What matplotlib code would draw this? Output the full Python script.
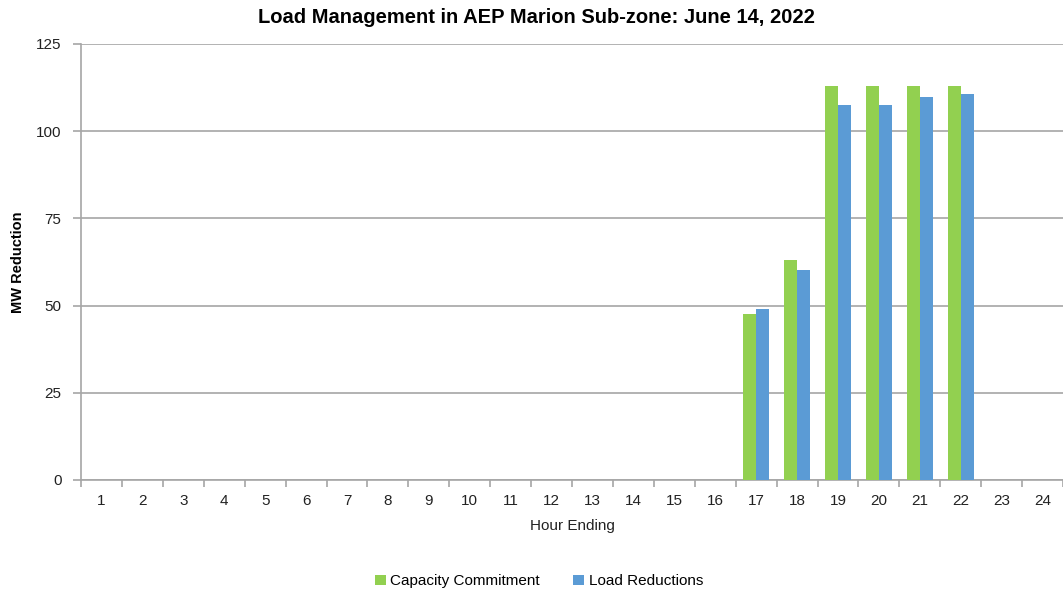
import numpy as np
import matplotlib.pyplot as plt
from matplotlib.ticker import FixedLocator

hours = [str(h) for h in range(1, 25)]
capacity = [0] * 16 + [47.6, 63.0, 113.0, 113.0, 113.0, 113.0, 0, 0]
reductions = [0] * 16 + [49.1, 60.3, 107.6, 107.6, 109.9, 110.6, 0, 0]

green = '#92D050'
blue = '#5B9BD5'
grid_c = '#A6A6A6'

plt.rcParams['font.family'] = ['Liberation Sans', 'DejaVu Sans']

fig = plt.figure(figsize=(10.63, 5.92), dpi=100)
ax = fig.add_axes([0.0762, 0.1892, 0.9238, 0.7365])

x = np.arange(len(hours))
width = 0.32
ax.bar(x - width / 2, capacity, width, color=green, label='Capacity Commitment', zorder=3)
ax.bar(x + width / 2, reductions, width, color=blue, label='Load Reductions', zorder=3)

ax.set_xlim(-0.5, len(hours) - 0.5)
ax.set_ylim(0, 125)
ax.set_yticks([0, 25, 50, 75, 100, 125])
ax.yaxis.grid(True, color=grid_c, linewidth=1.2, zorder=0)

ax.set_xticks(x)
ax.set_xticklabels(hours)
ax.xaxis.set_minor_locator(FixedLocator(np.arange(-0.5, len(hours), 1)))
ax.tick_params(axis='x', which='major', length=0, pad=10, labelsize=11, colors='#222222')
ax.tick_params(axis='x', which='minor', length=5, color=grid_c, width=1.2)
ax.tick_params(axis='y', length=6, color=grid_c, width=1.2, labelsize=11, labelcolor='#222222', pad=8)

for s in ['top', 'right']:
    ax.spines[s].set_visible(False)
for s in ['left', 'bottom']:
    ax.spines[s].set_color(grid_c)
    ax.spines[s].set_linewidth(1.2)

ax.set_xlabel('Hour Ending', fontsize=11, color='#222222', labelpad=8)
fig.text(18.5 / 1063, 1 - 262 / 592, 'MW Reduction', rotation=90, ha='center', va='center',
         fontsize=10.5, fontweight='bold')
fig.text(0.505, 0.970, 'Load Management in AEP Marion Sub-zone: June 14, 2022',
         ha='center', va='center', fontsize=14.5, fontweight='bold')

fig.legend(loc='center', bbox_to_anchor=(0.507, 0.018), ncol=2, frameon=False,
           fontsize=11, handlelength=0.7, handleheight=0.7, handletextpad=0.3, columnspacing=2.2)

fig.savefig('out.png', dpi=100)
